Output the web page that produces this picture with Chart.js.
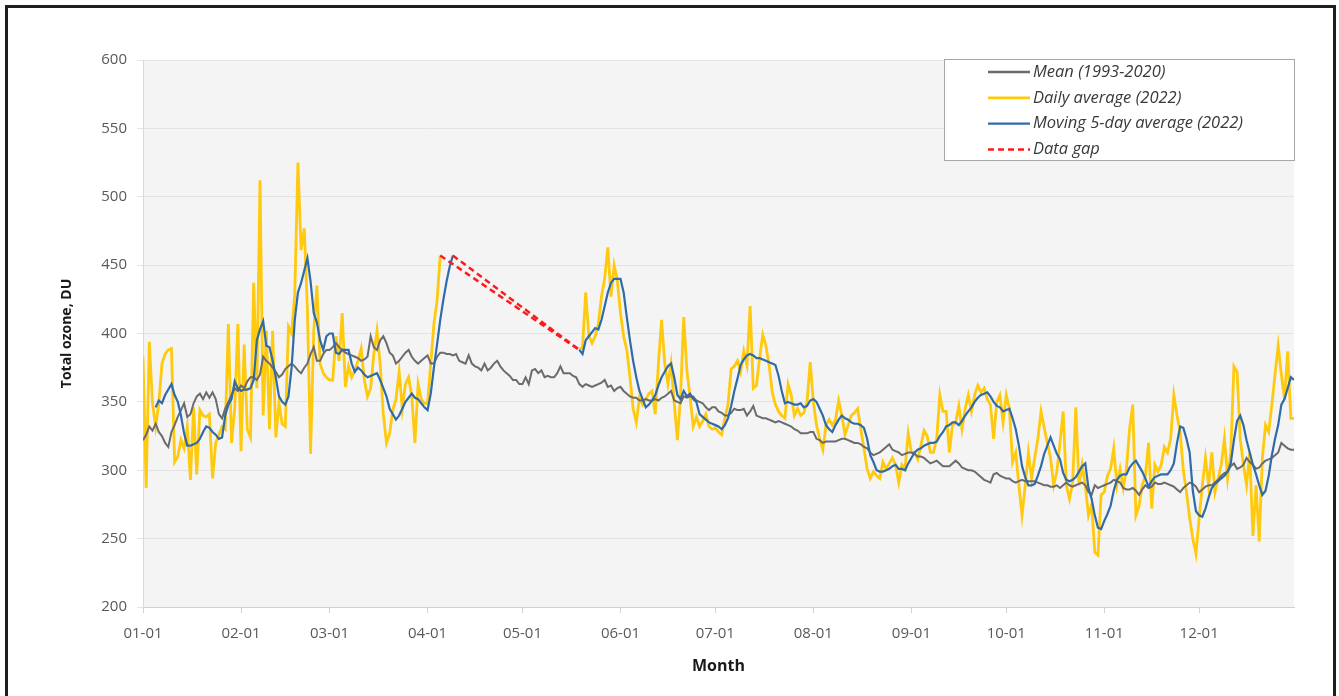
<!DOCTYPE html>
<html>
<head>
<meta charset="utf-8">
<title>Total ozone 2022</title>
<script src="https://cdn.jsdelivr.net/npm/chart.js@4.4.0/dist/chart.umd.min.js"></script>
<style>
  html, body { margin: 0; padding: 0; background: #fff; }
  #wrap { position: relative; width: 1339px; height: 696px; overflow: hidden; }
  #frame { position: absolute; left: 5px; top: 5px; width: 1331px; height: 730px;
           border: 3px solid #1f1f1f; box-sizing: border-box; }
  canvas { position: absolute; left: 0; top: 0; }
</style>
</head>
<body>
<div id="wrap">
  <div id="frame"></div>
  <canvas id="ozone" width="1339" height="696"></canvas>
</div>
<script>
// day of year (0 = Jan 1) where each month starts
const monthTicks = [0, 31, 59, 90, 120, 151, 181, 212, 243, 273, 304, 334];
const monthLabels = ['01-01', '02-01', '03-01', '04-01', '05-01', '06-01',
                     '07-01', '08-01', '09-01', '10-01', '11-01', '12-01'];

// climatological mean 1993-2020, DU, one value per day
const meanOzone = [
  322, 326, 332, 329, 334, 328, 325, 320, 317, 328,
  333, 339, 344, 349, 339, 341, 349, 354, 356, 352,
  357, 353, 357, 352, 341, 338, 345, 350, 355, 360,
  358, 362, 360, 365, 368, 368, 366, 370, 383, 380,
  378, 375, 372, 368, 370, 374, 376, 378, 376, 373,
  371, 375, 378, 385, 390, 380, 380, 385, 388, 388,
  390, 393, 390, 388, 386, 385, 384, 383, 382, 380,
  381, 383, 398, 390, 388, 395, 398, 393, 386, 384,
  378, 380, 383, 386, 388, 383, 380, 378, 380, 382,
  384, 378, 378, 383, 386, 386, 385, 385, 384, 385,
  380, 379, 378, 384, 378, 376, 375, 373, 378, 373,
  375, 378, 380, 376, 373, 371, 369, 366, 366, 363,
  363, 368, 363, 373, 374, 371, 373, 368, 369, 368,
  368, 371, 376, 371, 371, 371, 369, 368, 363, 361,
  363, 362, 361, 362, 363, 364, 366, 361, 362, 358,
  360, 361, 358, 356, 354, 353, 353, 351, 351, 352,
  351, 351, 352, 351, 353, 354, 356, 358, 351, 350,
  349, 354, 353, 354, 354, 351, 350, 349, 346, 344,
  346, 346, 343, 342, 340, 340, 342, 345, 344, 344,
  345, 340, 343, 347, 340, 339, 338, 338, 337, 336,
  335, 336, 335, 334, 333, 332, 330, 329, 327, 327,
  327, 328, 328, 323, 322, 320, 321, 321, 321, 321,
  322, 323, 323, 322, 321, 320, 320, 319, 317, 316,
  313, 311, 312, 313, 315, 317, 319, 315, 314, 313,
  311, 312, 313, 313, 312, 310, 310, 309, 307, 305,
  306, 307, 305, 303, 303, 303, 305, 307, 305, 302,
  301, 300, 300, 299, 297, 295, 293, 292, 291, 297,
  298, 296, 295, 294, 294, 292, 291, 292, 293, 292,
  292, 292, 292, 291, 290, 289, 289, 288, 288, 289,
  287, 289, 291, 289, 288, 289, 290, 291, 289, 284,
  282, 289, 287, 288, 289, 290, 291, 293, 292, 291,
  287, 286, 286, 287, 285, 282, 286, 289, 287, 288,
  291, 290, 290, 291, 290, 289, 288, 286, 284, 287,
  289, 291, 290, 288, 284, 286, 288, 289, 289, 291,
  293, 296, 298, 299, 303, 305, 301, 302, 304, 309,
  306, 304, 301, 302, 305, 307, 308, 309, 311, 313,
  320, 318, 316, 315, 315
];

// daily average 2022, DU (null = no measurement)
const dailyOzone = [
  383, 287, 394, 349, 332, 349, 378, 385, 388, 389,
  306, 310, 322, 316, 332, 293, 346, 297, 344, 340,
  339, 341, 294, 320, 326, 332, 330, 407, 320, 345,
  407, 314, 392, 330, 324, 437, 360, 512, 340, 402,
  330, 402, 324, 349, 334, 332, 405, 400, 429, 525,
  461, 477, 417, 312, 402, 435, 378, 371, 368, 366,
  366, 398, 380, 415, 361, 376, 368, 373, 380, 389,
  366, 354, 360, 385, 402, 378, 341, 320, 327, 344,
  352, 372, 345, 363, 368, 354, 320, 363, 352, 349,
  349, 378, 407, 424, 457, null, null, null, null, null,
  null, null, null, null, null, null, null, null, null, null,
  null, null, null, null, null, null, null, null, null, null,
  null, null, null, null, null, null, null, null, null, null,
  null, null, null, null, null, null, null, null, 388, 390,
  430, 398, 393, 398, 407, 427, 440, 463, 427, 450,
  439, 415, 398, 388, 368, 345, 335, 353, 348, 352,
  356, 358, 341, 378, 410, 378, 363, 378, 349, 322,
  354, 412, 373, 354, 332, 339, 332, 336, 341, 332,
  330, 331, 328, 326, 338, 348, 374, 376, 380, 372,
  387, 377, 420, 360, 362, 382, 399, 391, 377, 357,
  348, 343, 340, 338, 363, 355, 340, 345, 340, 342,
  350, 379, 350, 333, 323, 315, 333, 337, 333, 337,
  351, 340, 326, 333, 340, 342, 345, 330, 316, 301,
  294, 299, 296, 294, 306, 301, 305, 309, 304, 291,
  304, 301, 327, 313, 313, 308, 318, 329, 325, 313,
  313, 323, 355, 343, 343, 313, 333, 335, 347, 330,
  345, 355, 343, 355, 362, 357, 360, 352, 348, 323,
  350, 355, 335, 355, 345, 306, 313, 289, 267, 289,
  313, 294, 309, 323, 343, 331, 320, 309, 289, 299,
  320, 343, 289, 279, 291, 346, 289, 304, 289, 267,
  275, 240, 238, 282, 284, 296, 301, 316, 289, 301,
  287, 301, 330, 348, 267, 274, 289, 296, 320, 272,
  304, 299, 304, 317, 313, 323, 355, 340, 328, 300,
  284, 265, 250, 239, 265, 289, 309, 289, 313, 284,
  294, 304, 323, 294, 313, 376, 372, 323, 304, 289,
  313, 252, 289, 248, 309, 333, 328, 348, 370, 391,
  370, 352, 387, 338, 338
];

// moving 5-day average 2022, DU
const movingAvg5 = [
  null, null, null, null, 346, 351, 349, 355, 359, 363,
  355, 350, 340, 327, 318, 318, 319, 320, 323, 328,
  332, 331, 328, 326, 323, 324, 340, 348, 352, 365,
  360, 358, 359, 359, 360, 366, 395, 403, 409, 391,
  390, 380, 368, 354, 350, 348, 354, 375, 410, 430,
  437, 446, 455, 438, 415, 408, 395, 388, 398, 400,
  400, 386, 385, 388, 388, 388, 378, 372, 375, 373,
  370, 368, 369, 370, 371, 366, 360, 354, 345, 341,
  337, 340, 345, 350, 353, 356, 353, 352, 349, 346,
  344, 356, 375, 392, 410, 425, 438, 449, 457, null,
  null, null, null, null, null, null, null, null, null, null,
  null, null, null, null, null, null, null, null, null, null,
  null, null, null, null, null, null, null, null, null, null,
  null, null, null, null, null, null, null, null, 388, 385,
  395, 398, 401, 404, 403, 410, 420, 430, 437, 440,
  440, 440, 430, 412, 395, 380, 368, 358, 352, 346,
  348, 351, 355, 362, 368, 372, 376, 378, 368, 355,
  352, 358, 354, 356, 352, 350, 341, 339, 337, 335,
  334, 333, 332, 330, 333, 338, 347, 358, 367, 377,
  381, 384, 385, 384, 382, 382, 381, 380, 379, 378,
  377, 369, 358, 349, 350, 349, 348, 348, 349, 346,
  347, 351, 352, 350, 345, 340, 333, 330, 328, 333,
  337, 340, 338, 337, 335, 334, 334, 333, 331, 323,
  311, 306, 300, 299, 299, 300, 301, 303, 304, 301,
  301, 300, 305, 309, 313, 315, 316, 318, 319, 320,
  320, 321, 325, 328, 332, 333, 335, 335, 333, 336,
  340, 343, 346, 350, 353, 355, 356, 357, 354, 350,
  347, 346, 343, 344, 345, 338, 330, 318, 303, 295,
  289, 289, 290, 296, 303, 312, 318, 324, 318, 312,
  308, 298, 293, 292, 293, 295, 299, 303, 305, 287,
  279, 267, 258, 257, 263, 268, 274, 285, 293, 296,
  297, 297, 302, 305, 307, 303, 299, 294, 288, 292,
  295, 296, 297, 297, 297, 300, 305, 320, 332, 331,
  323, 313, 285, 270, 267, 266, 272, 280, 287, 290,
  292, 294, 296, 299, 305, 322, 336, 340, 333, 322,
  313, 304, 297, 289, 282, 285, 296, 311, 323, 333,
  348, 352, 360, 368, 366
];

// ends of the data gap (day, DU) for the daily and 5-day series
const gapDays = [94, 138];
const gapValues = [457, 388];
const gapAvgDays = [98, 138];
const gapAvgValues = [457, 388];

const toPoints = vals => vals.map((v, i) => ({ x: i, y: v }));
const pairPoints = (xs, ys) => xs.map((x, i) => ({ x: x, y: ys[i] }));

const FONT = "'Open Sans', 'DejaVu Sans', sans-serif";

// grey plotting area behind the lines
const plotBg = {
  id: 'plotBg',
  beforeDraw(chart) {
    const { ctx, chartArea: a } = chart;
    ctx.save();
    ctx.fillStyle = '#f4f4f4';
    ctx.fillRect(a.left, a.top, a.right - a.left, a.bottom - a.top);
    ctx.restore();
  }
};

// boxed legend in the top right corner of the plot
const legendBox = {
  id: 'legendBox',
  afterDraw(chart) {
    const { ctx, chartArea: a } = chart;
    const items = chart.data.datasets.filter(d => !d.noLegend);
    const x0 = a.right - 350, y0 = a.top - 1, w = 351, h = 102;
    ctx.save();
    ctx.fillStyle = '#ffffff';
    ctx.fillRect(x0, y0, w, h);
    ctx.strokeStyle = '#a6a6a6';
    ctx.lineWidth = 1;
    ctx.strokeRect(x0 + 0.5, y0 + 0.5, w - 1, h - 1);
    ctx.font = 'italic 16.5px ' + FONT;
    ctx.textBaseline = 'middle';
    items.forEach((d, i) => {
      const y = y0 + 13 + i * 25.8;
      ctx.beginPath();
      ctx.setLineDash(d.borderDash || []);
      ctx.strokeStyle = d.borderColor;
      ctx.lineWidth = Math.max(2.4, d.borderWidth);
      ctx.moveTo(x0 + 44, y);
      ctx.lineTo(x0 + 86, y);
      ctx.stroke();
      ctx.setLineDash([]);
      ctx.fillStyle = '#3a3a3a';
      ctx.fillText(d.label, x0 + 89, y);
    });
    ctx.restore();
  }
};

new Chart(document.getElementById('ozone'), {
  type: 'line',
  data: {
    datasets: [
      {
        label: 'Mean (1993-2020)',
        data: toPoints(meanOzone),
        borderColor: '#6b6b6b',
        borderWidth: 2,
        order: 2
      },
      {
        label: 'Daily average (2022)',
        data: toPoints(dailyOzone),
        borderColor: '#ffc90e',
        borderWidth: 2.8,
        order: 3
      },
      {
        label: 'Moving 5-day average (2022)',
        data: toPoints(movingAvg5),
        borderColor: '#2f6ba8',
        borderWidth: 2.2,
        order: 1
      },
      {
        label: 'Data gap',
        data: pairPoints(gapDays, gapValues),
        borderColor: '#ff1a1a',
        borderWidth: 2.5,
        borderDash: [6, 4],
        order: 0
      },
      {
        label: 'Data gap',
        noLegend: true,
        data: pairPoints(gapAvgDays, gapAvgValues),
        borderColor: '#ff1a1a',
        borderWidth: 2.5,
        borderDash: [6, 4],
        order: 0
      }
    ]
  },
  options: {
    responsive: false,
    animation: false,
    spanGaps: false,
    layout: { padding: { left: 55, top: 60, right: 45, bottom: 16 } },
    elements: {
      point: { radius: 0, hoverRadius: 0 },
      line: { tension: 0, fill: false }
    },
    plugins: {
      legend: { display: false },
      tooltip: { enabled: false }
    },
    scales: {
      x: {
        type: 'linear',
        min: 0,
        max: 364,
        afterBuildTicks: s => { s.ticks = monthTicks.map(v => ({ value: v })); },
        afterFit: s => { s.height = 73; },
        ticks: {
          autoSkip: false,
          maxRotation: 0,
          padding: 12,
          color: '#595959',
          font: { family: FONT, size: 15 },
          callback: v => monthLabels[monthTicks.indexOf(v)]
        },
        grid: { drawOnChartArea: false, tickLength: 6, color: '#d0d0d0' },
        border: { color: '#d0d0d0' },
        title: {
          display: true,
          text: 'Month',
          color: '#1a1a1a',
          font: { family: FONT, size: 16, weight: 'bold' }
        }
      },
      y: {
        min: 200,
        max: 600,
        afterFit: s => { s.width = 88; },
        ticks: {
          stepSize: 50,
          padding: 10,
          color: '#595959',
          font: { family: FONT, size: 15 }
        },
        grid: { color: '#e3e3e3', tickLength: 6 },
        border: { color: '#d9d9d9' },
        title: {
          display: true,
          text: 'Total ozone, DU',
          color: '#1a1a1a',
          font: { family: FONT, size: 14, weight: 'bold' }
        }
      }
    }
  },
  plugins: [plotBg, legendBox]
});
</script>
</body>
</html>
